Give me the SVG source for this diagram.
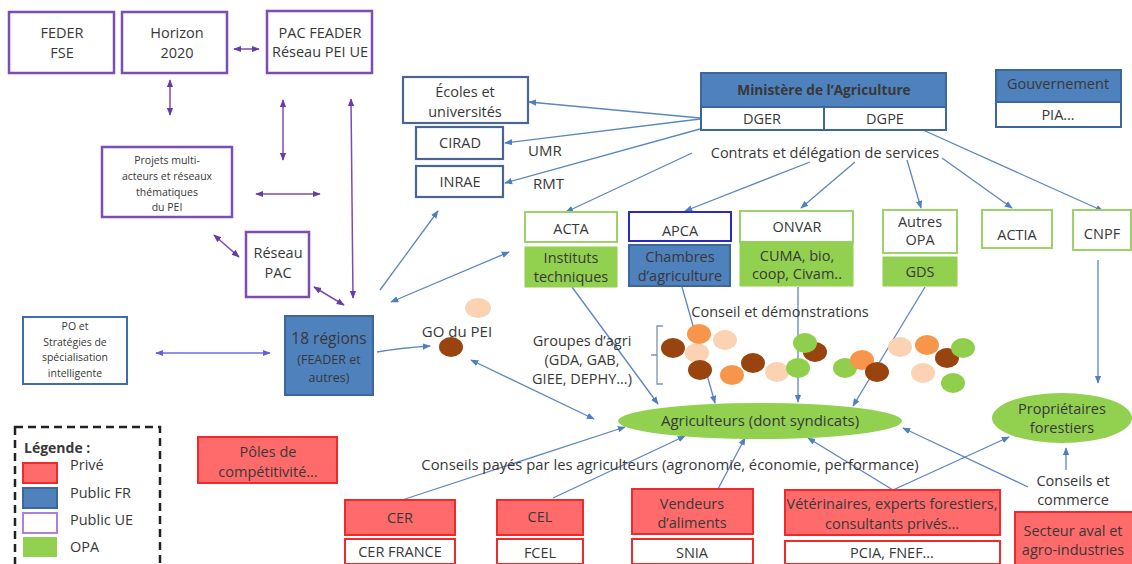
<svg xmlns="http://www.w3.org/2000/svg" width="1132" height="564" viewBox="0 0 1132 564">
<defs>
<style>
text{font-family:"Open Sans","Liberation Sans","DejaVu Sans",sans-serif;fill:#383838;font-size:14.5px;text-anchor:middle}
.s{font-size:10.5px}
.m{font-size:12.5px}
.b{font-weight:bold}
.l{text-anchor:start}
.pu{fill:#fff;stroke:#7c4db5;stroke-width:2.5}
.bf{fill:#4f81bd;stroke:#3b679c;stroke-width:2}
.bw{fill:#fff;stroke:#3b679c;stroke-width:2}
.gb{fill:#fff;stroke:#4a6690;stroke-width:2.2}
.gw{fill:#fff;stroke:#9bd26a;stroke-width:2}
.gf{fill:#92d050;stroke:#92d050;stroke-width:1}
.rf{fill:#ff6b6b;stroke:#f02a2a;stroke-width:2}
.rw{fill:#fff;stroke:#f02a2a;stroke-width:2}
.cb{stroke:#5b86c0;stroke-width:1.3;fill:none;marker-end:url(#ab)}
.cb2{stroke:#5b86c0;stroke-width:1.3;fill:none;marker-end:url(#ab);marker-start:url(#ab)}
.cp{stroke:#7c4db5;stroke-width:1.5;fill:none;marker-end:url(#ap);marker-start:url(#ap)}
.cv{stroke:#6e6ee6;stroke-width:1.5;fill:none;marker-end:url(#av);marker-start:url(#av)}
.db{fill:#99440f}.or{fill:#f7964a}.pe{fill:#fbd3b2}.gr{fill:#8fcf4c}
</style>
<marker id="ab" viewBox="0 0 10 10" refX="9" refY="5" markerWidth="8" markerHeight="8" markerUnits="userSpaceOnUse" orient="auto-start-reverse"><path d="M0,1 L10,5 L0,9 z" fill="#4f7fbf"/></marker>
<marker id="ap" viewBox="0 0 10 10" refX="9" refY="5" markerWidth="8" markerHeight="8" markerUnits="userSpaceOnUse" orient="auto-start-reverse"><path d="M0,1 L10,5 L0,9 z" fill="#6a3aa5"/></marker>
<marker id="av" viewBox="0 0 10 10" refX="9" refY="5" markerWidth="8" markerHeight="8" markerUnits="userSpaceOnUse" orient="auto-start-reverse"><path d="M0,1 L10,5 L0,9 z" fill="#6060e0"/></marker>
</defs>
<rect width="1132" height="564" fill="#fff"/>

<g id="connectors">
<line class="cp" x1="234" y1="49" x2="259" y2="49"/>
<line class="cp" x1="170" y1="80" x2="170" y2="115"/>
<line class="cp" x1="283" y1="100" x2="283" y2="160"/>
<line class="cp" x1="351" y1="99" x2="353" y2="298"/>
<line class="cp" x1="256" y1="194" x2="320" y2="194"/>
<line class="cp" x1="214" y1="235" x2="239" y2="257"/>
<line class="cp" x1="314" y1="287" x2="344" y2="305"/>
<line class="cv" x1="156" y1="353" x2="270" y2="353"/>
<line class="cb" x1="380" y1="290" x2="438" y2="211"/>
<line class="cb2" x1="391" y1="302" x2="509" y2="252"/>
<path class="cb" d="M377,352 Q400,348 430,346"/>
<line class="cb2" x1="471" y1="360" x2="594" y2="419"/>
<line class="cb" x1="700" y1="118" x2="529" y2="102"/>
<line class="cb" x1="700" y1="119" x2="505" y2="143"/>
<line class="cb" x1="700" y1="129" x2="505" y2="183"/>
<line class="cb" x1="692" y1="153" x2="566" y2="212"/>
<line class="cb" x1="810" y1="162" x2="685" y2="211"/>
<line class="cb" x1="855" y1="162" x2="801" y2="208"/>
<line class="cb" x1="907" y1="160" x2="921" y2="208"/>
<line class="cb" x1="942" y1="158" x2="1012" y2="208"/>
<line class="cb" x1="923" y1="130" x2="1103" y2="211"/>
<line class="cb" x1="572" y1="287" x2="658" y2="404"/>
<line class="cb" x1="682" y1="287" x2="715" y2="403"/>
<line class="cb" x1="798" y1="287" x2="798" y2="402"/>
<line class="cb" x1="925" y1="287" x2="853" y2="406"/>
<line class="cb" x1="1098" y1="260" x2="1098" y2="383"/>
<line class="cb" x1="402" y1="500" x2="625" y2="427"/>
<line class="cb" x1="553" y1="498" x2="685" y2="436"/>
<line class="cb" x1="718" y1="489" x2="745" y2="438"/>
<line class="cb" x1="893" y1="490" x2="808" y2="438"/>
<line class="cb" x1="893" y1="490" x2="1009" y2="437"/>
<line class="cb" x1="1028" y1="487" x2="903" y2="428"/>
<line class="cb" x1="1066" y1="470" x2="1066" y2="448"/>
<path d="M663,326 L657,326 L657,384 L663,384 M657,355 L651,355" fill="none" stroke="#7f93ad" stroke-width="1.3"/>
</g>

<g id="feder"><rect class="pu" x="9" y="12" width="105" height="61"/><text x="62" y="38">FEDER</text><text x="62" y="58">FSE</text></g>
<g id="horizon"><rect class="pu" x="122" y="12" width="105" height="61"/><text x="177" y="38">Horizon</text><text x="177" y="58">2020</text></g>
<g id="pac-feader"><rect class="pu" x="267" y="11" width="105" height="62"/><text x="320" y="38">PAC FEADER</text><text x="320" y="57">Réseau PEI UE</text></g>
<g id="projets"><rect class="pu" x="102" y="147" width="130" height="70"/><text class="s" x="167" y="164">Projets multi-</text><text class="s" x="167" y="180">acteurs et réseaux</text><text class="s" x="167" y="196">thématiques</text><text class="s" x="167" y="211">du PEI</text></g>
<g id="reseau-pac"><rect class="pu" x="246" y="232" width="63" height="65"/><text x="278" y="258">Réseau</text><text x="278" y="278">PAC</text></g>
<g id="po"><rect x="23" y="317" width="104" height="67" fill="#fff" stroke="#3f6bb0" stroke-width="2"/><text class="s" x="75" y="330">PO et</text><text class="s" x="75" y="346">Stratégies de</text><text class="s" x="75" y="361">spécialisation</text><text class="s" x="75" y="377">intelligente</text></g>
<g id="regions"><rect class="bf" x="285" y="316" width="88" height="79"/><text x="329" y="344" style="font-size:15.5px">18 régions</text><text class="m" x="329" y="364">(FEADER et</text><text class="m" x="329" y="382">autres)</text></g>
<g id="go-pei"><text x="457" y="337" style="font-size:15px">GO du PEI</text><ellipse class="pe" cx="478" cy="308" rx="13" ry="10"/><ellipse class="db" cx="451" cy="347" rx="12" ry="10"/></g>
<g id="ecoles"><rect class="gb" x="403" y="77" width="125" height="46"/><text x="465" y="97">Écoles et</text><text x="465" y="117">universités</text></g>
<g id="cirad"><rect class="gb" x="416" y="127" width="87" height="32"/><text x="460" y="148">CIRAD</text></g>
<g id="inrae"><rect class="gb" x="416" y="166" width="87" height="31"/><text x="460" y="187">INRAE</text></g>
<g id="umr-rmt"><text class="l" x="528" y="156" style="font-size:15px">UMR</text><text class="l" x="533" y="189" style="font-size:15px">RMT</text></g>
<g id="ministere"><rect class="bf" x="701" y="73" width="245" height="34"/><text class="b" x="824" y="95" style="font-size:13.7px">Ministère de l’Agriculture</text><rect class="bw" x="701" y="107" width="123" height="23"/><rect class="bw" x="824" y="107" width="122" height="23"/><text x="762" y="124">DGER</text><text x="885" y="124">DGPE</text><text x="825" y="158">Contrats et délégation de services</text></g>
<g id="gouvernement"><rect class="bf" x="996" y="70" width="125" height="32"/><text x="1058" y="89">Gouvernement</text><rect class="bw" x="996" y="102" width="125" height="25"/><text x="1058" y="120">PIA…</text></g>
<g id="acta"><rect class="gw" x="525" y="212" width="92" height="30"/><text x="571" y="234">ACTA</text><rect class="gf" x="525" y="247" width="92" height="40"/><text x="571" y="263">Instituts</text><text x="571" y="282">techniques</text></g>
<g id="apca"><rect x="629" y="212" width="102" height="29" fill="#fff" stroke="#2a2ac0" stroke-width="2"/><text x="680" y="236">APCA</text><rect class="bf" x="629" y="245" width="101" height="41"/><text x="680" y="262">Chambres</text><text x="680" y="281">d’agriculture</text></g>
<g id="onvar"><rect class="gw" x="740" y="211" width="113" height="31"/><text x="797" y="232">ONVAR</text><rect class="gf" x="740" y="242" width="113" height="44"/><text x="797" y="261">CUMA, bio,</text><text x="797" y="279">coop, Civam..</text></g>
<g id="autres-opa"><rect class="gw" x="883" y="210" width="74" height="43"/><text x="920" y="227">Autres</text><text x="920" y="245">OPA</text><rect class="gf" x="883" y="257" width="74" height="29"/><text x="920" y="277">GDS</text></g>
<g id="actia"><rect class="gw" x="982" y="210" width="70" height="38"/><text x="1017" y="240">ACTIA</text></g>
<g id="cnpf"><rect class="gw" x="1073" y="210" width="58" height="40"/><text x="1102" y="239">CNPF</text></g>
<g id="groupes"><text x="780" y="317">Conseil et démonstrations</text><text x="582" y="346">Groupes d’agri</text><text x="582" y="365">(GDA, GAB,</text><text x="582" y="384">GIEE, DEPHY…)</text>
<ellipse class="pe" cx="697" cy="353" rx="12" ry="10"/>
<ellipse class="db" cx="673" cy="348" rx="12" ry="10"/>
<ellipse class="or" cx="699" cy="334" rx="12" ry="10"/>
<ellipse class="pe" cx="725" cy="340" rx="12" ry="10"/>
<ellipse class="db" cx="700" cy="370" rx="12" ry="10"/>
<ellipse class="or" cx="732" cy="375" rx="12" ry="10"/>
<ellipse class="db" cx="753" cy="363" rx="12" ry="10"/>
<ellipse class="pe" cx="777" cy="372" rx="12" ry="10"/>
<ellipse class="db" cx="815" cy="352" rx="12" ry="10"/>
<ellipse class="gr" cx="805" cy="343" rx="12" ry="10"/>
<ellipse class="gr" cx="798" cy="368" rx="12" ry="10"/>
<ellipse class="gr" cx="845" cy="368" rx="12" ry="10"/>
<ellipse class="or" cx="862" cy="360" rx="12" ry="10"/>
<ellipse class="db" cx="877" cy="372" rx="12" ry="10"/>
<ellipse class="pe" cx="900" cy="347" rx="12" ry="10"/>
<ellipse class="or" cx="927" cy="345" rx="12" ry="10"/>
<ellipse class="pe" cx="923" cy="373" rx="12" ry="10"/>
<ellipse class="db" cx="947" cy="358" rx="12" ry="10"/>
<ellipse class="gr" cx="963" cy="348" rx="12" ry="10"/>
<ellipse class="gr" cx="953" cy="383" rx="12" ry="10"/>
</g>
<g id="agriculteurs"><ellipse cx="760" cy="421" rx="142" ry="18" fill="#92d050"/><text x="760" y="426" style="font-size:15px">Agriculteurs (dont syndicats)</text></g>
<g id="proprietaires"><ellipse cx="1062" cy="418" rx="70" ry="25" fill="#92d050"/><text x="1062" y="414">Propriétaires</text><text x="1062" y="433">forestiers</text></g>
<g id="conseils-payes"><text x="670" y="470" style="font-size:14.8px">Conseils payés par les agriculteurs (agronomie, économie, performance)</text></g>
<g id="poles"><rect class="rf" x="198" y="437" width="139" height="46"/><text x="268" y="457">Pôles de</text><text x="268" y="477">compétitivité…</text></g>
<g id="legende"><rect x="15" y="427" width="145" height="145" fill="none" stroke="#222" stroke-width="2.5" stroke-dasharray="8 5"/><text class="l b" x="24" y="453" style="font-size:14px">Légende :</text>
<rect class="rf" x="23" y="463" width="34" height="20"/><text class="l" x="70" y="470">Privé</text>
<rect class="bf" x="23" y="488" width="34" height="20"/><text class="l" x="70" y="498">Public FR</text>
<rect x="23" y="513" width="34" height="20" fill="#fff" stroke="#b07fdc" stroke-width="2"/><text class="l" x="70" y="525">Public UE</text>
<rect x="23" y="537" width="34" height="20" fill="#92d050"/><text class="l" x="70" y="552">OPA</text></g>
<g id="cer"><rect class="rf" x="345" y="500" width="110" height="35"/><text x="400" y="523">CER</text><rect class="rw" x="345" y="539" width="110" height="25"/><text x="400" y="557">CER FRANCE</text></g>
<g id="cel"><rect class="rf" x="497" y="500" width="86" height="35"/><text x="540" y="522">CEL</text><rect class="rw" x="497" y="539" width="86" height="25"/><text x="540" y="558">FCEL</text></g>
<g id="vendeurs"><rect class="rf" x="632" y="489" width="121" height="45"/><text x="692" y="509">Vendeurs</text><text x="692" y="528">d’aliments</text><rect class="rw" x="632" y="539" width="121" height="25"/><text x="692" y="558">SNIA</text></g>
<g id="veterinaires"><rect class="rf" x="785" y="490" width="215" height="45"/><text x="892" y="509" style="font-size:14px" textLength="211" lengthAdjust="spacingAndGlyphs">Vétérinaires, experts forestiers,</text><text x="892" y="529">consultants privés…</text><rect class="rw" x="785" y="541" width="215" height="23"/><text x="892" y="558">PCIA, FNEF…</text></g>
<g id="conseils-commerce"><text x="1073" y="486">Conseils et</text><text x="1073" y="505">commerce</text></g>
<g id="secteur-aval"><rect class="rf" x="1015" y="512" width="125" height="60"/><text x="1073" y="536">Secteur aval et</text><text x="1073" y="555">agro-industries</text></g>
</svg>
